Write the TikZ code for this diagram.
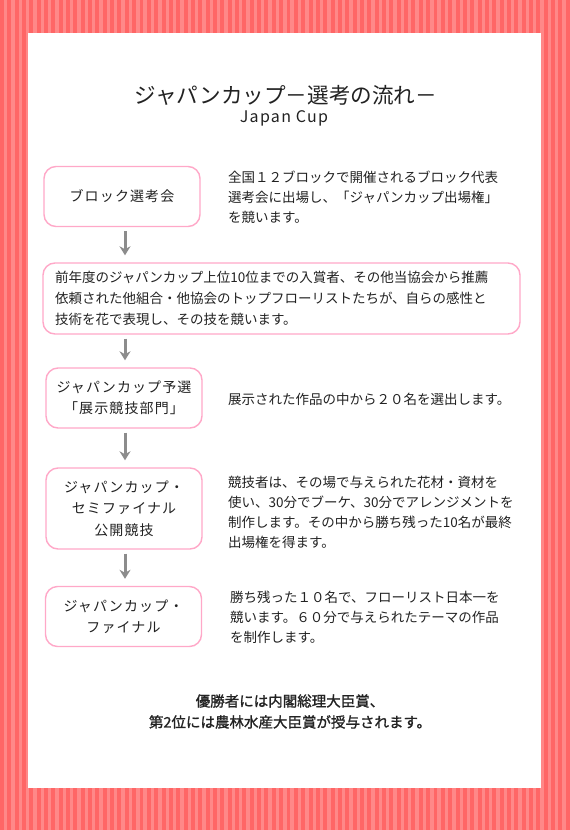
\documentclass[tikz,border=0pt]{standalone}
\usepackage{fontspec}
\setmainfont{Noto Sans CJK JP}
\newfontfamily\spacedfont[LetterSpace=8]{Noto Sans CJK JP}
\newfontfamily\awardfont[FakeBold=1.2]{Noto Sans CJK JP}
\usetikzlibrary{arrows.meta, positioning}
\definecolor{stripedark}{HTML}{FF6666}
\definecolor{stripelight}{HTML}{FF8888}
\definecolor{boxpink}{HTML}{FFA8C8}
\definecolor{arrowgray}{HTML}{8C8C8C}
\definecolor{textdark}{HTML}{222222}

\begin{document}
\begin{tikzpicture}[
    x=1pt, y=-1pt,
    stagebox/.style={
        rectangle, draw=boxpink, line width=1.4pt, rounded corners=12pt,
        minimum width=156pt, minimum height=60pt,
        align=center, text=textdark, font=\spacedfont\fontsize{14}{21.5}\selectfont
    },
    desc/.style={
        anchor=west, inner sep=0pt, align=left,
        text=textdark, font=\fontsize{13.5}{20}\selectfont
    },
    arrow/.style={-{Stealth[length=9pt, width=11pt]}, line width=3pt, draw=arrowgray,
        shorten <=4pt, shorten >=7pt},
]
\useasboundingbox (0,0) rectangle (570,830);

% striped frame and white panel
\fill[stripedark] (0,0) rectangle (570,830);
\foreach \i in {0,...,77}
    \fill[stripelight] ({\i*7.35+3.8},0) rectangle ++(3.4,830);
\fill[white] (28,33) rectangle (541,788);

\node[text=textdark, font=\fontsize{21.6}{24}\selectfont] (title) at (286,95) {ジャパンカップ－選考の流れ－};
\node[text=textdark, font=\spacedfont\fontsize{16}{18}\selectfont] (subtitle) at (284,118) {Japan Cup};

\node[stagebox] (block) at (122,196.5) {ブロック選考会};
\node[stagebox, minimum width=477pt, minimum height=71pt, text width=453pt,
      inner xsep=12pt, inner ysep=4pt, align=left, font=\fontsize{13.5}{21}\selectfont] (entry) at (281.5,298.5)
    {前年度のジャパンカップ上位10位までの入賞者、その他当協会から推薦\\依頼された他組合・他協会のトップフローリストたちが、自らの感性と\\技術を花で表現し、その技を競います。};
\node[stagebox] (prelim) at (124,398) {ジャパンカップ予選\\「展示競技部門」};
\node[stagebox, minimum height=81pt] (semi) at (124,508.5) {ジャパンカップ・\\セミファイナル\\公開競技};
\node[stagebox] (final) at (123.5,616.5) {ジャパンカップ・\\ファイナル};

\node[desc] (blockdesc) at (228,197) {全国１２ブロックで開催されるブロック代表\\選考会に出場し、「ジャパンカップ出場権」\\を競います。};
\node[desc] (prelimdesc) at (228,399) {展示された作品の中から２０名を選出します。};
\node[desc] (semidesc) at (228,512) {競技者は、その場で与えられた花材・資材を\\使い、30分でブーケ、30分でアレンジメントを\\制作します。その中から勝ち残った10名が最終\\出場権を得ます。};
\node[desc] (finaldesc) at (230,617.5) {勝ち残った１０名で、フローリスト日本一を\\競います。６０分で与えられたテーマの作品\\を制作します。};

\node[text=textdark, align=center, font=\awardfont\fontsize{14.5}{21}\selectfont] (award) at (290,711.5)
    {優勝者には内閣総理大臣賞、\\第2位には農林水産大臣賞が授与されます。};

% flow arrows
\coordinate (ax) at (125,0);
\draw[arrow] (block.south -| ax) -- (entry.north -| ax);
\draw[arrow] (entry.south -| ax) -- (prelim.north -| ax);
\draw[arrow] (prelim.south -| ax) -- (semi.north -| ax);
\draw[arrow] (semi.south -| ax) -- (final.north -| ax);

\end{tikzpicture}
\end{document}
